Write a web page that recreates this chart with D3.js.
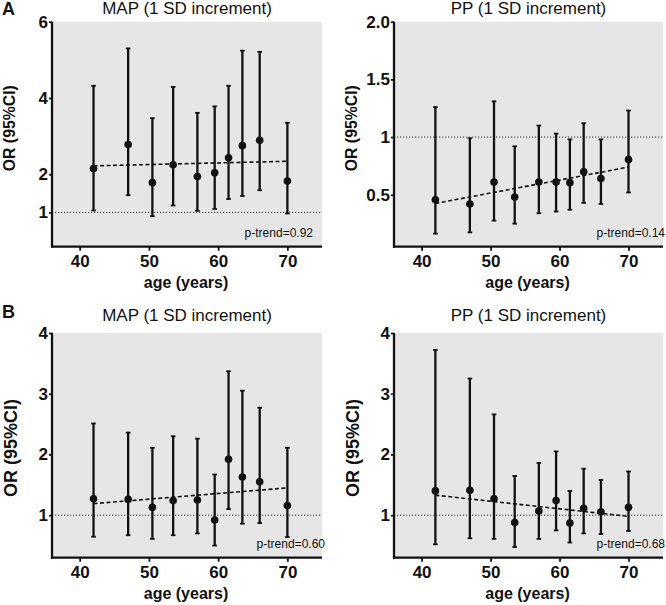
<!DOCTYPE html>
<html><head><meta charset="utf-8">
<script src="https://cdn.jsdelivr.net/npm/d3@7"></script>
<style>body{margin:0;background:#fff}svg{display:block}text{font-family:"Liberation Sans",Arial,sans-serif}</style>
</head><body>
<svg id="c" width="666" height="605"></svg>
<script>
const ages = [42, 47, 50.5, 53.5, 57, 59.5, 61.5, 63.5, 66, 70];
const xTicks = [40, 50, 60, 70];

const mapA_or = [2.15, 2.78, 1.78, 2.25, 1.94, 2.04, 2.43, 2.75, 2.89, 1.82];
const mapA_lo = [1.05, 1.45, 0.90, 1.18, 1.04, 1.09, 1.35, 1.43, 1.58, 0.97];
const mapA_hi = [4.32, 5.30, 3.47, 4.29, 3.61, 3.78, 4.32, 5.24, 5.21, 3.35];
const mapA_trend = [2.22, 2.34];
const mapA_ticks = [1, 2, 4, 6];
const mapA_tickLabels = ["1", "2", "4", "6"];

const ppA_or = [0.456, 0.42, 0.61, 0.48, 0.61, 0.61, 0.605, 0.70, 0.64, 0.805];
const ppA_lo = [0.163, 0.174, 0.276, 0.25, 0.34, 0.355, 0.37, 0.43, 0.42, 0.52];
const ppA_hi = [1.26, 0.99, 1.31, 0.92, 1.10, 1.03, 0.98, 1.12, 0.98, 1.23];
const ppA_trend = [0.425, 0.74];
const ppA_ticks = [0.5, 1, 1.5, 2.0];
const ppA_tickLabels = ["0.5", "1", "1.5", "2.0"];

const mapB_or = [1.27, 1.26, 1.13, 1.24, 1.25, 0.92, 1.92, 1.63, 1.55, 1.16];
const mapB_lo = [0.645, 0.67, 0.61, 0.67, 0.70, 0.50, 1.10, 0.86, 0.87, 0.64];
const mapB_hi = [2.51, 2.36, 2.11, 2.30, 2.26, 1.67, 3.37, 3.05, 2.77, 2.11];
const mapB_trend = [1.19, 1.45];

const ppB_or = [1.40, 1.41, 1.27, 0.88, 1.07, 1.24, 0.87, 1.115, 1.055, 1.13];
const ppB_lo = [0.52, 0.62, 0.61, 0.475, 0.61, 0.75, 0.55, 0.70, 0.69, 0.74];
const ppB_hi = [3.72, 3.25, 2.66, 1.645, 1.86, 2.05, 1.40, 1.765, 1.58, 1.72];
const ppB_trend = [1.33, 0.98];

const B_ticks = [1, 2, 3, 4];
const B_tickLabels = ["1", "2", "3", "4"];

const titles = ["MAP (1 SD increment)", "PP (1 SD increment)"];
const pTrends = ["p-trend=0.92", "p-trend=0.14", "p-trend=0.60", "p-trend=0.68"];
const panelLetters = ["A", "B"];

const panels = [
  {or: mapA_or, lo: mapA_lo, hi: mapA_hi, trend: mapA_trend, ticks: mapA_ticks, labels: mapA_tickLabels, dom: [0.1, 6], col: 0, row: 0, title: titles[0], p: pTrends[0], pRight: 313},
  {or: ppA_or, lo: ppA_lo, hi: ppA_hi, trend: ppA_trend, ticks: ppA_ticks, labels: ppA_tickLabels, dom: [0.05, 2], col: 1, row: 0, title: titles[1], p: pTrends[1], pRight: 665},
  {or: mapB_or, lo: mapB_lo, hi: mapB_hi, trend: mapB_trend, ticks: B_ticks, labels: B_tickLabels, dom: [0.3, 4], col: 0, row: 1, title: titles[0], p: pTrends[2], pRight: 325},
  {or: ppB_or, lo: ppB_lo, hi: ppB_hi, trend: ppB_trend, ticks: B_ticks, labels: B_tickLabels, dom: [0.3, 4], col: 1, row: 1, title: titles[1], p: pTrends[3], pRight: 665}
];

const colX = [[52, 322], [394, 663]];
const rowY = [[246.7, 21.7], [557.7, 333]];
const svg = d3.select("#c");

panels.forEach(pn => {
  const [x0, x1] = colX[pn.col];
  const [yb, yt] = rowY[pn.row];
  const x = d3.scaleLinear().domain([36, 75]).range([x0, x1]);
  const y = d3.scaleLinear().domain(pn.dom).range([yb, yt]);
  const g = svg.append("g");

  g.append("rect").attr("x", x0).attr("y", yt).attr("width", x1 - x0).attr("height", yb - yt).attr("fill", "#e6e6e6");

  // reference line at OR=1
  g.append("line").attr("x1", x0).attr("x2", x1).attr("y1", y(1)).attr("y2", y(1))
    .attr("stroke", "#333").attr("stroke-width", 1).attr("stroke-dasharray", "1.2,1.8");

  // trend line
  g.append("line").attr("x1", x(ages[0])).attr("x2", x(ages[ages.length - 1]))
    .attr("y1", y(pn.trend[0])).attr("y2", y(pn.trend[1]))
    .attr("stroke", "#111").attr("stroke-width", 1.6).attr("stroke-dasharray", "4,2.5");

  // error bars
  const eb = g.selectAll(".eb").data(ages).enter().append("g");
  eb.append("line").attr("x1", d => x(d)).attr("x2", d => x(d))
    .attr("y1", (d, i) => y(pn.lo[i])).attr("y2", (d, i) => y(pn.hi[i]))
    .attr("stroke", "#111").attr("stroke-width", 2.3);
  eb.append("line").attr("x1", d => x(d) - 2.3).attr("x2", d => x(d) + 2.3)
    .attr("y1", (d, i) => y(pn.lo[i])).attr("y2", (d, i) => y(pn.lo[i]))
    .attr("stroke", "#111").attr("stroke-width", 1.8);
  eb.append("line").attr("x1", d => x(d) - 2.3).attr("x2", d => x(d) + 2.3)
    .attr("y1", (d, i) => y(pn.hi[i])).attr("y2", (d, i) => y(pn.hi[i]))
    .attr("stroke", "#111").attr("stroke-width", 1.8);
  eb.append("circle").attr("cx", d => x(d)).attr("cy", (d, i) => y(pn.or[i])).attr("r", 3.8).attr("fill", "#111");

  // axes
  const xa = g.append("g").attr("transform", `translate(0,${yb})`)
    .call(d3.axisBottom(x).tickValues(xTicks).tickSize(4).tickSizeOuter(0).tickPadding(4));
  const ya = g.append("g").attr("transform", `translate(${x0},0)`)
    .call(d3.axisLeft(y).tickValues(pn.ticks).tickFormat((d, i) => pn.labels[i]).tickSize(3).tickSizeOuter(0).tickPadding(1));
  [xa, ya].forEach(a => {
    a.select(".domain").attr("stroke", "#111").attr("stroke-width", 2.3);
    a.selectAll(".tick line").attr("stroke", "#111").attr("stroke-width", 1.8);
    a.selectAll("text").attr("fill", "#111").attr("font-size", 17).attr("font-weight", "bold").attr("font-family", '"Liberation Sans",Arial,sans-serif');
  });
  xa.select(".domain").attr("d", `M${x0 - 1},0H${x1}`);
  ya.select(".domain").attr("d", `M0,${yt}V${yb + 1}`);

  // title
  g.append("text").attr("x", (x0 + x1) / 2).attr("y", yt - (pn.row === 0 ? 8 : 12)).attr("text-anchor", "middle")
    .attr("font-size", 17).attr("fill", "#111").text(pn.title);
  // x label
  g.append("text").attr("x", (x0 + x1) / 2 - 1).attr("y", yb + 41).attr("text-anchor", "middle")
    .attr("font-size", 16).attr("font-weight", "bold").attr("fill", "#111").text("age (years)");
  // y label
  const yl = pn.row === 0 ? 15.8 : 18;
  const ycen = pn.row === 0 ? yt + 106.5 : yt + 115;
  const yx = pn.row === 0 ? x0 - 37.5 : x0 - 35.5;
  g.append("text").attr("transform", `translate(${yx},${ycen}) rotate(-90)`).attr("text-anchor", "middle")
    .attr("font-size", yl).attr("font-weight", "bold").attr("fill", "#111").text("OR (95%CI)");
  // p-trend
  g.append("text").attr("x", pn.pRight).attr("y", yb - 10).attr("text-anchor", "end")
    .attr("font-size", 12).attr("fill", "#111").text(pn.p);
});

panelLetters.forEach((L, i) => {
  svg.append("text").attr("x", 2).attr("y", i === 0 ? 15 : 318).attr("font-size", 18).attr("font-weight", "bold")
    .attr("fill", "#111").text(L);
});
</script>
</body></html>
